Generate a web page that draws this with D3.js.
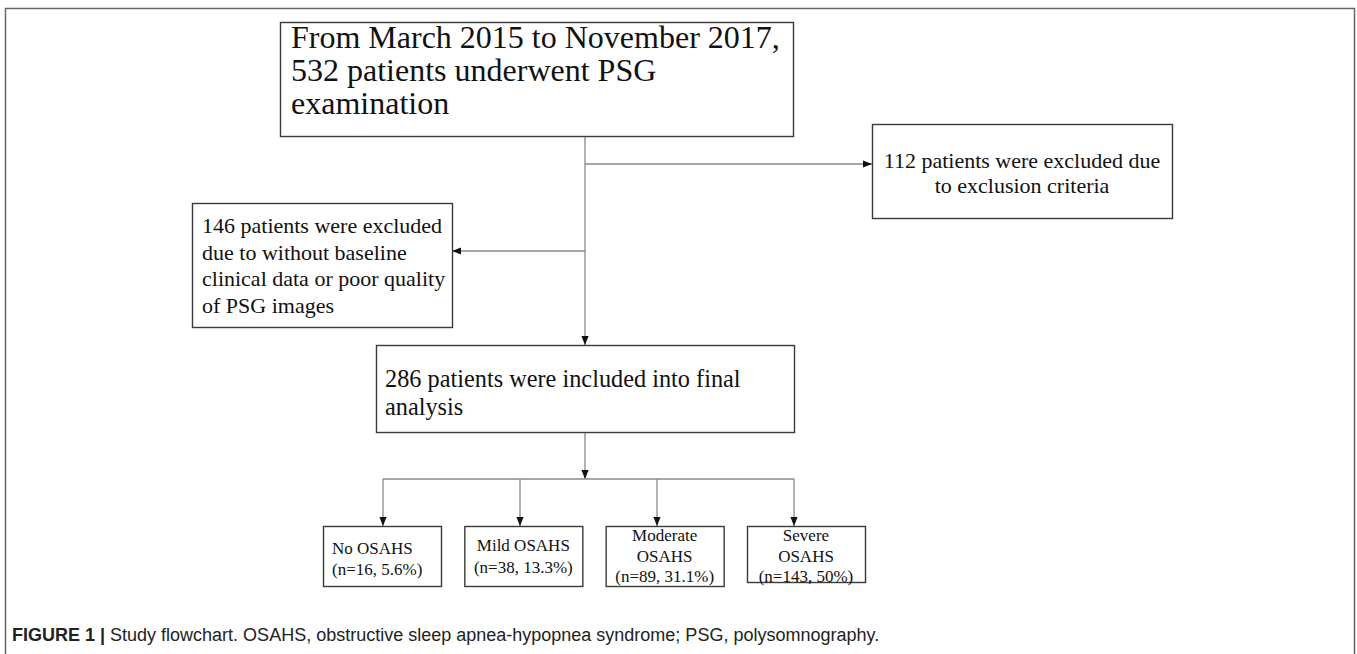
<!DOCTYPE html>
<html>
<head>
<meta charset="utf-8">
<script src="https://cdn.jsdelivr.net/npm/d3@7"></script>
<style>
  body { margin: 0; background: #fff; }
  svg { display: block; }
</style>
</head>
<body>
<script>
var width = 1357;
var height = 654;

// Flowchart content
var screenedLines = ["From March 2015 to November 2017,", "532 patients underwent PSG", "examination"];
var criteriaLines = ["112 patients were excluded due", "to exclusion criteria"];
var missingLines = ["146 patients were excluded", "due to without baseline", "clinical data or poor quality", "of PSG images"];
var includedLines = ["286 patients were included into final", "analysis"];

var groupNames = ["No OSAHS", "Mild OSAHS", "Moderate OSAHS", "Severe OSAHS"];
var groupNameLines = [["No OSAHS"], ["Mild OSAHS"], ["Moderate", "OSAHS"], ["Severe", "OSAHS"]];
var groupCounts = [16, 38, 89, 143];
var groupPercents = ["5.6%", "13.3%", "31.1%", "50%"];

var captionBold = "FIGURE 1 |";
var captionText = " Study flowchart. OSAHS, obstructive sleep apnea-hypopnea syndrome; PSG, polysomnography.";

var serif = "'Liberation Serif', 'Times New Roman', serif";
var boxStroke = "#3a3a3a";
var lineStroke = "#8a8a8a";

var svg = d3.select("body")
  .append("svg")
  .attr("width", width)
  .attr("height", height);

svg.append("defs")
  .append("marker")
  .attr("id", "arrow")
  .attr("markerUnits", "userSpaceOnUse")
  .attr("viewBox", "0 0 10 10")
  .attr("refX", 10)
  .attr("refY", 5)
  .attr("markerWidth", 9)
  .attr("markerHeight", 9)
  .attr("orient", "auto")
  .append("path")
  .attr("d", "M0,1L10,5L0,9Z")
  .attr("fill", "#111");

// outer frame
svg.append("rect")
  .attr("x", 5.5)
  .attr("y", 8.5)
  .attr("width", 1349)
  .attr("height", 700)
  .attr("fill", "none")
  .attr("stroke", "#666")
  .attr("stroke-width", 1.5);

function box(x, y, w, h) {
  svg.append("rect")
    .attr("x", x + 0.5)
    .attr("y", y + 0.5)
    .attr("width", w)
    .attr("height", h)
    .attr("fill", "#fff")
    .attr("stroke", boxStroke)
    .attr("stroke-width", 1.4);
}

function lines(arr, x, y0, dy, size, anchor) {
  svg.append("g")
    .selectAll("text")
    .data(arr)
    .enter()
    .append("text")
    .attr("x", x)
    .attr("y", (d, i) => y0 + i * dy)
    .attr("text-anchor", anchor || "start")
    .attr("font-family", serif)
    .attr("font-size", size)
    .attr("fill", "#111")
    .text(d => d);
}

function connector(pts, arrow) {
  var p = svg.append("path")
    .attr("d", d3.line()(pts))
    .attr("fill", "none")
    .attr("stroke", lineStroke)
    .attr("stroke-width", 1.3);
  if (arrow) p.attr("marker-end", "url(#arrow)");
}

var spineX = 585;

// connectors first so boxes sit on top
connector([[spineX, 136], [spineX, 345]], true);
connector([[spineX, 164], [872, 164]], true);
connector([[spineX, 251], [452, 251]], true);
connector([[spineX, 432], [spineX, 479]], true);

var xDrop = d3.scalePoint().domain(groupNames).range([383, 794]);
var xBox = d3.scalePoint().domain(groupNames).range([382, 806]);

connector([[xDrop(groupNames[0]), 479], [xDrop(groupNames[3]), 479]], false);
groupNames.forEach(g => connector([[xDrop(g), 479], [xDrop(g), 526]], true));

// boxes
box(280, 22, 513, 114);
lines(screenedLines, 291, 48, 33, 32);

box(872, 124, 300, 94);
lines(criteriaLines, 1022, 168, 25, 22, "middle");

box(192, 203, 260, 124);
lines(missingLines, 202, 233, 26.7, 22);

box(376, 345, 418, 87);
lines(includedLines, 385, 387, 28, 24.3);

// outcome boxes
var boxW = 118;
groupNames.forEach((g, i) => {
  var cx = xBox(g);
  var label = groupNameLines[i].concat(["(n=" + groupCounts[i] + ", " + groupPercents[i] + ")"]);
  var h = i == 3 ? 56 : 60;
  box(cx - boxW / 2, 526, boxW, h);
  if (i == 0) {
    lines(label, cx - boxW / 2 + 9, 554, 21, 17);
  } else if (label.length == 2) {
    lines(label, cx, 551, 22, 17, "middle");
  } else {
    lines(label, cx, 541, 20.5, 17, "middle");
  }
});

// caption
var cap = svg.append("text")
  .attr("x", 12)
  .attr("y", 641)
  .attr("font-family", "'Liberation Sans', Arial, sans-serif")
  .attr("font-size", 18)
  .attr("fill", "#222");
cap.append("tspan").attr("font-weight", "bold").text(captionBold);
cap.append("tspan").text(captionText);
</script>
</body>
</html>
